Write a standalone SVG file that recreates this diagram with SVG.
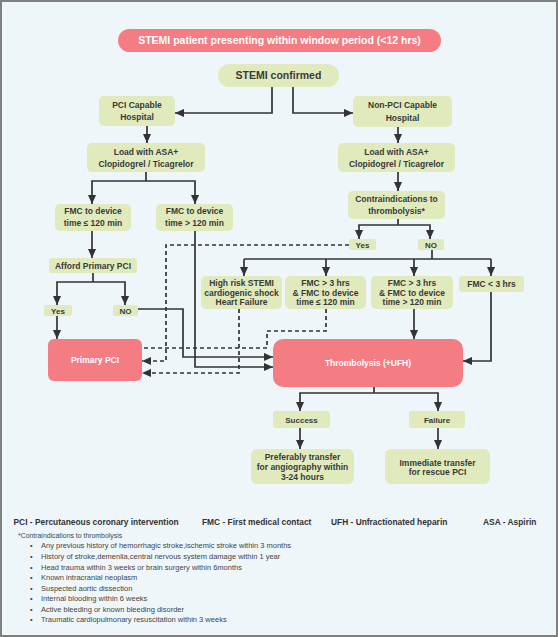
<svg xmlns="http://www.w3.org/2000/svg" width="558" height="637" viewBox="0 0 558 637">
<defs>
<marker id="ah" viewBox="0 0 10 10" refX="10" refY="5" markerWidth="9" markerHeight="9" markerUnits="userSpaceOnUse" orient="auto"><path d="M0,0.5 L10,5 L0,9.5 z" fill="#333333"/></marker>
<style>
.g{fill:#e0eabc;}
.p{fill:#f47d84;}
.t{font-family:"Liberation Sans",Arial,sans-serif;font-weight:bold;font-size:8.5px;fill:#3a3a3a;text-anchor:middle;}
.w{font-family:"Liberation Sans",Arial,sans-serif;font-weight:bold;font-size:8.5px;fill:#ffffff;text-anchor:middle;}
.c{fill:none;stroke:#333333;stroke-width:1.7;}
.a{marker-end:url(#ah);}
.d{stroke-dasharray:4 3;}
.lg{font-family:"Liberation Sans",Arial,sans-serif;font-weight:bold;font-size:8.4px;fill:#333333;}
.fn{font-family:"Liberation Sans",Arial,sans-serif;font-size:7.5px;fill:#444444;}
</style>
</defs>
<rect x="1" y="1" width="556" height="635" fill="#eff6fa" stroke="#808080" stroke-width="2"/>

<g id="connectors">
<path class="c a" d="M272,87 V113 H175"/>
<path class="c a" d="M293,87 V113 H353"/>
<path class="c a" d="M147,126 V143"/>
<path class="c a" d="M398,127 V143"/>
<path class="c" d="M146,172 V181"/>
<path class="c a" d="M146,181 H92 V204"/>
<path class="c a" d="M146,181 H195 V204"/>
<path class="c a" d="M92,231 V258"/>
<path class="c" d="M93,273 V282"/>
<path class="c a" d="M93,282 H57 V305"/>
<path class="c a" d="M93,282 H125 V305"/>
<path class="c a" d="M57,316 V339"/>
<path class="c a" d="M138,309 H183 V357 H273"/>
<path class="c a" d="M195,231 V367 H273"/>
<path class="c a" d="M398,172 V191"/>
<path class="c" d="M398,219 V225"/>
<path class="c a" d="M398,225 H359 V239"/>
<path class="c a" d="M398,225 H430 V239"/>
<path class="c" d="M432,250 V259"/>
<path class="c" d="M244,259 H491"/>
<path class="c a" d="M244,259 V276"/>
<path class="c a" d="M326,259 V276"/>
<path class="c a" d="M414,259 V276"/>
<path class="c a" d="M491,259 V276"/>
<path class="c a" d="M414,309 V339"/>
<path class="c a" d="M491,292 V361 H463"/>
<path class="c" d="M374,387 V393"/>
<path class="c a" d="M374,393 H300 V411"/>
<path class="c a" d="M374,393 H438 V411"/>
<path class="c a" d="M300,428 V449"/>
<path class="c a" d="M438,428 V449"/>
<path class="c d a" d="M349,245 H166 V361 H142"/>
<path class="c d a" d="M239,309 V373 H142"/>
<path class="c d" d="M326,309 V331 H267 V348 H142"/>
</g>

<g id="title"><rect class="p" x="118" y="29" width="323" height="23" rx="11.5"/><text class="w" x="279.5" y="44.3" style="font-size:10.5px">STEMI patient presenting within window period (&lt;12 hrs)</text></g>
<g id="stemi-confirmed"><rect class="g" x="218" y="64" width="121" height="23" rx="11.5"/><text class="t" x="278.5" y="79.3" style="font-size:10.5px">STEMI confirmed</text></g>
<g id="pci-capable"><rect class="g" x="99" y="96" width="76" height="30" rx="5"/><text class="t" x="137" y="108.2">PCI Capable</text><text class="t" x="137" y="120.4">Hospital</text></g>
<g id="non-pci-capable"><rect class="g" x="353" y="96" width="99" height="31" rx="5"/><text class="t" x="402.5" y="108.4">Non-PCI Capable</text><text class="t" x="402.5" y="120.8">Hospital</text></g>
<g id="load-left"><rect class="g" x="87" y="143" width="118" height="29" rx="5"/><text class="t" x="146" y="155.3">Load with ASA+</text><text class="t" x="146" y="166.5">Clopidogrel / Ticagrelor</text></g>
<g id="load-right"><rect class="g" x="338" y="143" width="117" height="29" rx="5"/><text class="t" x="396.5" y="155.3">Load with ASA+</text><text class="t" x="396.5" y="166.5">Clopidogrel / Ticagrelor</text></g>
<g id="fmc-le120"><rect class="g" x="55" y="204" width="76" height="27" rx="5"/><text class="t" x="93" y="213.8">FMC to device</text><text class="t" x="93" y="225.6">time ≤ 120 min</text></g>
<g id="fmc-gt120"><rect class="g" x="156" y="204" width="77" height="27" rx="5"/><text class="t" x="194.5" y="213.8">FMC to device</text><text class="t" x="194.5" y="225.6">time &gt; 120 min</text></g>
<g id="contraindications"><rect class="g" x="348" y="191" width="97" height="28" rx="5"/><text class="t" x="396.5" y="202">Contraindications to</text><text class="t" x="396.5" y="213.7">thrombolysis*</text></g>
<g id="yes-right"><rect class="g" x="349" y="239" width="27" height="11" rx="2"/><text class="t" x="362.5" y="247.7" style="font-size:8px">Yes</text></g>
<g id="no-right"><rect class="g" x="418" y="239" width="26" height="11" rx="2"/><text class="t" x="431" y="247.7" style="font-size:8px">NO</text></g>
<g id="afford-pci"><rect class="g" x="49" y="258" width="88" height="15" rx="3"/><text class="t" x="93" y="268.6">Afford Primary PCI</text></g>
<g id="yes-left"><rect class="g" x="44" y="305" width="28" height="11" rx="2"/><text class="t" x="58" y="313.7" style="font-size:8px">Yes</text></g>
<g id="no-left"><rect class="g" x="113" y="305" width="25" height="11" rx="2"/><text class="t" x="125.5" y="313.7" style="font-size:8px">NO</text></g>
<g id="high-risk"><rect class="g" x="201" y="276" width="81" height="33" rx="5"/><text class="t" x="241.5" y="286.3">High risk STEMI</text><text class="t" x="241.5" y="295.7">cardiogenic shock</text><text class="t" x="241.5" y="305">Heart Failure</text></g>
<g id="fmc-3-le120"><rect class="g" x="285" y="276" width="81" height="33" rx="5"/><text class="t" x="325.5" y="286.3">FMC &gt; 3 hrs</text><text class="t" x="325.5" y="295.7">&amp; FMC to device</text><text class="t" x="325.5" y="305">time ≤ 120 min</text></g>
<g id="fmc-3-gt120"><rect class="g" x="371" y="276" width="82" height="33" rx="5"/><text class="t" x="412" y="286.3">FMC &gt; 3 hrs</text><text class="t" x="412" y="295.7">&amp; FMC to device</text><text class="t" x="412" y="305">time &gt; 120 min</text></g>
<g id="fmc-lt3"><rect class="g" x="459" y="276" width="65" height="16" rx="3"/><text class="t" x="491.5" y="287">FMC &lt; 3 hrs</text></g>
<g id="primary-pci"><rect class="p" x="48" y="339" width="94" height="42" rx="6"/><text class="w" x="95" y="363">Primary PCI</text></g>
<g id="thrombolysis"><rect class="p" x="273" y="339" width="190" height="48" rx="10"/><text class="w" x="368" y="366">Thrombolysis (+UFH)</text></g>
<g id="success"><rect class="g" x="273" y="411" width="57" height="17" rx="3"/><text class="t" x="301.5" y="422.7" style="font-size:8px">Success</text></g>
<g id="failure"><rect class="g" x="409" y="411" width="56" height="17" rx="3"/><text class="t" x="437" y="422.7" style="font-size:8px">Failure</text></g>
<g id="preferably-transfer"><rect class="g" x="251" y="449" width="103" height="35" rx="6"/><text class="t" x="302.5" y="460.3">Preferably transfer</text><text class="t" x="302.5" y="470.3">for angiography within</text><text class="t" x="302.5" y="479.7">3-24 hours</text></g>
<g id="immediate-transfer"><rect class="g" x="385" y="449" width="105" height="35" rx="6"/><text class="t" x="437.5" y="465.5">Immediate transfer</text><text class="t" x="437.5" y="474.9">for rescue PCI</text></g>

<g id="legend">
<text class="lg" x="13.5" y="525">PCI - Percutaneous coronary intervention</text>
<text class="lg" x="202" y="525">FMC - First medical contact</text>
<text class="lg" x="331" y="525">UFH - Unfractionated heparin</text>
<text class="lg" x="483" y="525">ASA - Aspirin</text>
<text class="fn" x="18" y="538.3" style="font-size:6.9px">*Contraindications to thrombolysis</text>
<g class="fn">
<text x="30" y="548.4">•</text><text x="41" y="548.4">Any previous history of hemorrhagic stroke,ischemic stroke within 3 months</text>
<text x="30" y="558.9">•</text><text x="41" y="558.9">History of stroke,demenlia,central nervous system damage within 1 year</text>
<text x="30" y="569.5">•</text><text x="41" y="569.5">Head trauma within 3 weeks or brain surgery within 6months</text>
<text x="30" y="580">•</text><text x="41" y="580">Known intracranial neoplasm</text>
<text x="30" y="590.6">•</text><text x="41" y="590.6">Suspected aortic dissection</text>
<text x="30" y="601.1">•</text><text x="41" y="601.1">Internal blooding within 6 weeks</text>
<text x="30" y="611.6">•</text><text x="41" y="611.6">Active bleeding or known bleeding disorder</text>
<text x="30" y="622.2">•</text><text x="41" y="622.2">Traumatic cardiopulmonary resuscitation within 3 weeks</text>
</g>
</g>
</svg>
